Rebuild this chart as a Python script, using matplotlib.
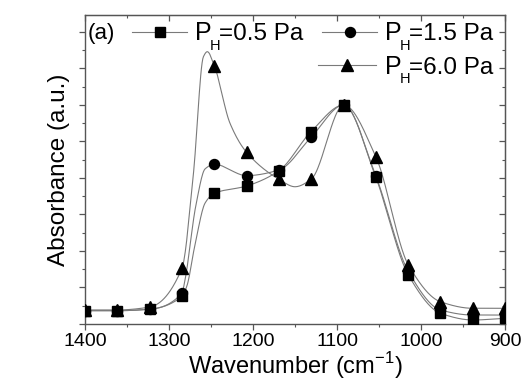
import matplotlib
matplotlib.use("Agg")
import matplotlib.pyplot as plt
from matplotlib.lines import Line2D
from matplotlib.ticker import MultipleLocator, NullFormatter
import numpy as np

plt.rcParams["font.family"] = ["Liberation Sans", "DejaVu Sans"]
plt.rcParams["mathtext.fontset"] = "custom"
plt.rcParams["mathtext.rm"] = "Liberation Sans"

# wavenumbers (cm-1) of the marked points
wavenumber = [1400, 1361.5, 1323, 1284.6, 1246, 1207.7, 1169, 1130.8, 1092, 1053.8, 1015, 976.9, 938, 900]
# absorbance (arbitrary units) at the markers
abs_05 = [0.73, 0.73, 0.81, 1.51, 7.16, 7.56, 8.40, 10.54, 12.0, 8.04, 2.68, 0.59, 0.22, 0.31]
abs_15 = [0.73, 0.73, 0.81, 1.70, 8.75, 8.13, 8.44, 10.23, 12.0, 8.11, 2.87, 0.77, 0.49, 0.49]
abs_60 = [0.77, 0.77, 0.93, 3.05, 14.15, 9.41, 7.93, 7.93, 12.0, 9.17, 3.23, 1.22, 0.86, 0.86]
# extra points along the drawn spectra (between markers)
extra_wn_05 = [1279, 1268, 1257]
extra_abs_05 = [2.04, 4.6, 6.63]
extra_wn_15 = [1281, 1268, 1257]
extra_abs_15 = [2.4, 6.5, 8.5]
extra_wn_60 = [1271, 1259, 1254.4, 1227.4, 1150]
extra_abs_60 = [8.2, 14.65, 14.92, 11.0, 7.52]

labels = ["=0.5 Pa", "=1.5 Pa", "=6.0 Pa"]
markers = ["s", "o", "^"]
msizes = [6.5, 7.2, 8.0]
LINE = "#7a7a7a"


def pchip(x, y, n=600):
    # monotone cubic (Fritsch-Carlson) curve through the points, for the connecting line
    x = np.asarray(x, float); y = np.asarray(y, float)
    o = np.argsort(x); x, y = x[o], y[o]
    h = np.diff(x); dlt = np.diff(y) / h
    m = np.zeros_like(y)
    for i in range(1, len(x) - 1):
        if dlt[i - 1] * dlt[i] > 0:
            w1 = 2 * h[i] + h[i - 1]; w2 = h[i] + 2 * h[i - 1]
            m[i] = (w1 + w2) / (w1 / dlt[i - 1] + w2 / dlt[i])
    m[0] = dlt[0]; m[-1] = dlt[-1]
    xs = np.linspace(x[0], x[-1], n)
    k = np.clip(np.searchsorted(x, xs) - 1, 0, len(x) - 2)
    t = (xs - x[k]) / h[k]
    h00 = 2 * t**3 - 3 * t**2 + 1; h10 = t**3 - 2 * t**2 + t
    h01 = -2 * t**3 + 3 * t**2; h11 = t**3 - t**2
    ys = h00 * y[k] + h10 * h[k] * m[k] + h01 * y[k + 1] + h11 * h[k] * m[k + 1]
    return xs, ys


W, H = 524, 380
fig = plt.figure(figsize=(W / 100, H / 100), dpi=100)
ax = fig.add_axes([85 / W, 1 - 324 / H, 420 / W, 309 / H])

series = [(abs_05, extra_wn_05, extra_abs_05), (abs_15, extra_wn_15, extra_abs_15),
          (abs_60, extra_wn_60, extra_abs_60)]
for (yv, ewn, eab), mk, ms in zip(series, markers, msizes):
    xs, ys = pchip(list(wavenumber) + ewn, list(yv) + eab)
    ax.plot(xs, ys, color=LINE, lw=0.8, zorder=2)
    ax.plot(wavenumber, yv, mk, color="black", ms=ms, zorder=3)

ax.set_xlim(1400, 900)
ax.set_ylim(0, 16.93)
ax.xaxis.set_major_locator(MultipleLocator(100))
ax.xaxis.set_minor_locator(MultipleLocator(50))
ax.yaxis.set_major_locator(MultipleLocator(2))
ax.yaxis.set_minor_locator(MultipleLocator(1))
ax.yaxis.set_major_formatter(NullFormatter())
ax.tick_params(which="both", direction="out", color="#555555", labelsize=14, pad=2.5)
ax.tick_params(which="major", length=4, width=0.9)
ax.tick_params(which="minor", length=2.5, width=0.8)
for s in ax.spines.values():
    s.set_color("#555555"); s.set_linewidth(1.0)

# inward ticks on top and right
top = ax.secondary_xaxis("top")
right = ax.secondary_yaxis("right")
for sec, axis in ((top, top.xaxis), (right, right.yaxis)):
    axis.set_major_locator(MultipleLocator(100 if sec is top else 2))
    axis.set_minor_locator(MultipleLocator(50 if sec is top else 1))
    axis.set_major_formatter(NullFormatter())
    sec.tick_params(which="both", direction="in", color="#555555")
    sec.tick_params(which="major", length=4, width=0.9)
    sec.tick_params(which="minor", length=2.5, width=0.8)
    for s in sec.spines.values():
        s.set_color("#555555")

ax.set_xlabel("Wavenumber (cm$^\\mathregular{-1}$)", fontsize=17, labelpad=0)
ax.set_ylabel("Absorbance (a.u.)", fontsize=17.5, labelpad=4)

fig.text(88 / W, 1 - 33 / H, "(a)", fontsize=16, va="center", ha="left")


def fx(px):
    return px / W


def fy(py):
    return 1 - py / H


# legend drawn by hand (Origin style layout)
legend_rows = [(132, 187, 160, 31.7, 195, 40.5), (322, 377, 350, 31.7, 385, 40.5),
               (318, 376, 347, 65.0, 385, 73.5)]
for (x0, x1, xm, yl, xt, yb), mk, ms, lab in zip(legend_rows, markers, msizes, labels):
    fig.add_artist(Line2D([fx(x0), fx(x1)], [fy(yl), fy(yl)], color=LINE, lw=0.8,
                          transform=fig.transFigure))
    fig.add_artist(Line2D([fx(xm)], [fy(yl)], marker=mk, ms=ms, color="black", ls="none",
                          transform=fig.transFigure))
    fig.text(fx(xt), fy(yb), "P", fontsize=18, va="baseline", ha="left")
    fig.text(fx(xt + 15), fy(yb + 9.5), "H", fontsize=10.5, va="baseline", ha="left")
    fig.text(fx(xt + 24), fy(yb), lab, fontsize=17.5, va="baseline", ha="left")

fig.savefig("out.png", dpi=100)
